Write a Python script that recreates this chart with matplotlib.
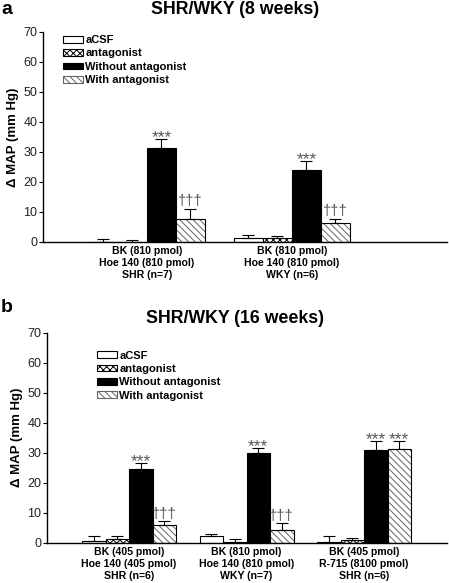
import matplotlib
matplotlib.use("Agg")
import matplotlib.pyplot as plt
from matplotlib.patches import Patch
import numpy as np

plt.rcParams['font.family'] = ['Liberation Sans', 'DejaVu Sans']
plt.rcParams['hatch.linewidth'] = 0.7

series = ["aCSF", "antagonist", "Without antagonist", "With antagonist"]

# Panel a (8 weeks)
a_groups = ["BK (810 pmol)\nHoe 140 (810 pmol)\nSHR (n=7)",
            "BK (810 pmol)\nHoe 140 (810 pmol)\nWKY (n=6)"]
a_acsf = [0.1, 1.4]
a_acsf_err = [1.0, 0.9]
a_antag = [0.1, 1.2]
a_antag_err = [0.7, 0.7]
a_without = [31.2, 23.9]
a_without_err = [3.2, 3.0]
a_with = [7.8, 6.2]
a_with_err = [3.3, 1.6]
a_marks_without = ["***", "***"]
a_marks_with = ["†††", "†††"]

# Panel b (16 weeks)
b_groups = ["BK (405 pmol)\nHoe 140 (405 pmol)\nSHR (n=6)",
            "BK (810 pmol)\nHoe 140 (810 pmol)\nWKY (n=7)",
            "BK (405 pmol)\nR-715 (8100 pmol)\nSHR (n=6)"]
b_acsf = [0.5, 2.1, 0.3]
b_acsf_err = [1.8, 0.9, 1.9]
b_antag = [1.2, 0.4, 0.9]
b_antag_err = [1.1, 0.7, 0.7]
b_without = [24.5, 30.0, 30.8]
b_without_err = [2.0, 1.5, 3.0]
b_with = [5.8, 4.2, 31.4]
b_with_err = [1.4, 2.4, 2.5]
b_marks_without = ["***", "***", "***"]
b_marks_with = ["†††", "†††", "***"]

W, H = 449, 583
fig = plt.figure(figsize=(W/100, H/100), dpi=100)

def ax_rect(l, r, t, b):
    return [l/W, 1-b/H, (r-l)/W, (b-t)/H]

HATCH_GRAY = "#666666"
MARK_GRAY = "#555555"

def draw_panel(ax, groups, vals, errs, marks_wo, marks_w, xlim, legend_anchor):
    n = len(groups)
    x = np.arange(1, n+1)
    w = 0.2
    offs = [-0.3, -0.1, 0.1, 0.3]
    acsf, antag, wo, wi = vals
    e1, e2, e3, e4 = errs
    ax.bar(x+offs[0], acsf, w, color="white", edgecolor="black", lw=0.8, zorder=2)
    ax.bar(x+offs[1], antag, w, color="white", edgecolor="black", hatch="xxxxx", lw=0.8, zorder=2)
    ax.bar(x+offs[2], wo, w, color="black", edgecolor="black", lw=0.8, zorder=2)
    ax.bar(x+offs[3], wi, w, color="white", edgecolor=HATCH_GRAY, hatch="\\\\\\\\\\", lw=0, zorder=2)
    ax.bar(x+offs[3], wi, w, fill=False, edgecolor="black", lw=0.8, zorder=3)
    for o, v, e in zip(offs, vals, errs):
        ax.errorbar(x+o, v, yerr=[np.zeros(n), e], fmt="none", ecolor="black",
                    elinewidth=0.8, capsize=4, capthick=0.8, zorder=4)
    for i in range(n):
        for xo, top, m in [(offs[2], wo[i]+e3[i], marks_wo[i]), (offs[3], wi[i]+e4[i], marks_w[i])]:
            if m.startswith("*"):
                ax.text(x[i]+xo, top-2.0, m, ha="center", va="bottom",
                        fontsize=12.5, color=MARK_GRAY)
            else:
                ax.text(x[i]+xo, top+0.1, m, ha="center", va="bottom",
                        fontsize=10.5, color=MARK_GRAY)
    ax.set_xlim(*xlim)
    ax.set_ylim(0, 70)
    ax.set_yticks(range(0, 71, 10))
    ax.set_xticks(x)
    ax.set_xticklabels(groups, fontweight="bold", fontsize=7.6, linespacing=1.25)
    ax.tick_params(axis="x", length=0, pad=3)
    ax.tick_params(axis="y", length=3, width=0.8, labelsize=9, pad=1, labelcolor="#222222")
    for s in ["top", "right"]:
        ax.spines[s].set_visible(False)
    for s in ["left", "bottom"]:
        ax.spines[s].set_linewidth(1.0)
    ax.set_ylabel("Δ MAP (mm Hg)", fontweight="bold", fontsize=9.5, labelpad=3)
    handles = [Patch(facecolor="white", edgecolor="black", lw=0.8),
               Patch(facecolor="white", edgecolor="black", hatch="xxxxx", lw=0.8),
               Patch(facecolor="black", edgecolor="black", lw=0.8),
               Patch(facecolor="white", edgecolor=HATCH_GRAY, hatch="\\\\\\\\\\", lw=0.8)]
    ax.legend(handles, series, loc="upper left", bbox_to_anchor=legend_anchor,
              frameon=False, prop={"weight": "bold", "size": 8},
              handlelength=1.8, handleheight=0.55, handletextpad=0.2,
              labelspacing=0.3, borderpad=0, borderaxespad=0)

ax1 = fig.add_axes(ax_rect(43, 447, 32, 242))
draw_panel(ax1, a_groups, [a_acsf, a_antag, a_without, a_with],
           [a_acsf_err, a_antag_err, a_without_err, a_with_err],
           a_marks_without, a_marks_with, (0.283, 3.07), (0.05, 0.985))
ax2 = fig.add_axes(ax_rect(47, 447, 332.7, 542.7))
draw_panel(ax2, b_groups, [b_acsf, b_antag, b_without, b_with],
           [b_acsf_err, b_antag_err, b_without_err, b_with_err],
           b_marks_without, b_marks_with, (0.302, 3.706), (0.125, 0.915))

fig.text(235/W, 1-1/H, "SHR/WKY (8 weeks)", ha="center", va="top", fontsize=12.8, fontweight="bold")
fig.text(235/W, 1-310/H, "SHR/WKY (16 weeks)", ha="center", va="top", fontsize=12.8, fontweight="bold")
fig.text(1/W, 1-1/H, "a", ha="left", va="top", fontsize=14, fontweight="bold")
fig.text(1/W, 1-299/H, "b", ha="left", va="top", fontsize=14, fontweight="bold")

fig.savefig("out.png", dpi=100)
